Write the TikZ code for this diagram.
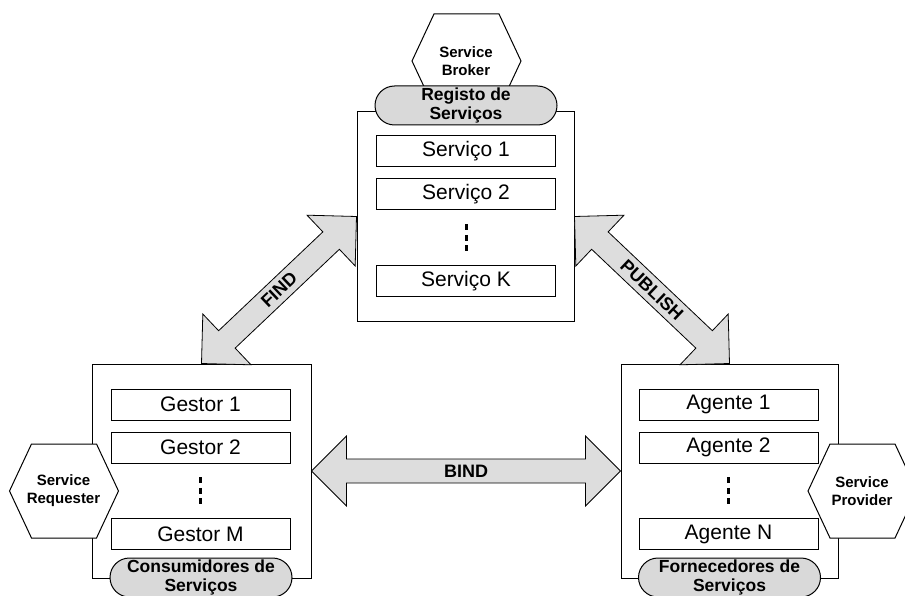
\documentclass[tikz,border=0pt]{standalone}
\usepackage{fontspec}
\setmainfont{Liberation Sans}
\usetikzlibrary{calc,shapes.misc}

\definecolor{arrowgray}{HTML}{DDDDDD}
\definecolor{ovalgray}{HTML}{D9D9D9}

\tikzset{
  rolebox/.style={draw=black, line width=1pt, fill=white, minimum width=218pt, minimum height=214pt, inner sep=0pt},
  itembox/.style={draw=black, line width=1pt, fill=white, minimum width=179pt, minimum height=31pt, inner sep=0pt, font=\fontsize{21}{24}\selectfont},
  registry/.style={rounded rectangle, draw=black, line width=1pt, fill=ovalgray, minimum width=182pt, minimum height=39pt, inner sep=0pt, align=center, font=\bfseries\fontsize{17.5}{19.5}\selectfont},
  rolelabel/.style={align=center, inner sep=0pt, font=\bfseries\fontsize{15}{18}\selectfont},
  hexline/.style={draw=black, line width=1pt, fill=white},
  dotsbox/.style={minimum height=27pt, minimum width=4pt, inner sep=0pt},
  dotsline/.style={line width=3pt, dash pattern=on 6pt off 4.5pt},
  flowarrow/.style={draw=black, line width=0.8pt, fill=arrowgray, line join=miter},
  flowlabel/.style={font=\bfseries\fontsize{18}{20}\selectfont, sloped, inner sep=0pt}
}

% double block arrow between two anchors
\newcommand{\dblarrow}[2]{%
  \draw[flowarrow] (#1)
    -- ($(#1)!35pt!(#2)!35pt!90:(#2)$)
    -- ($(#1)!35pt!(#2)!12pt!90:(#2)$)
    -- ($(#2)!35pt!(#1)!12pt!-90:(#1)$)
    -- ($(#2)!35pt!(#1)!35pt!-90:(#1)$)
    -- (#2)
    -- ($(#2)!35pt!(#1)!35pt!90:(#1)$)
    -- ($(#2)!35pt!(#1)!12pt!90:(#1)$)
    -- ($(#1)!35pt!(#2)!12pt!-90:(#2)$)
    -- ($(#1)!35pt!(#2)!35pt!-90:(#2)$)
    -- cycle;
}

% hexagon with role name
\newcommand{\rolehex}[3]{%
  \draw[hexline] (#1) ++(-54,0) -- ++(22,-47) -- ++(65,0) -- ++(22,47) -- ++(-22,47) -- ++(-65,0) -- cycle;
  \node[rolelabel] (#2) at (#1) {#3};
}

\begin{document}
\begin{tikzpicture}[x=1pt,y=-1pt]
  \useasboundingbox (0,0) rectangle (905,596);
  \clip (0,0) rectangle (905,596);

  \node[rolebox, minimum width=217pt, minimum height=209pt] (reg) at (465.5,216.5) {};
  \node[rolebox, minimum width=219pt] (cons) at (201.5,471) {};
  \node[rolebox, minimum width=217pt] (prov) at (729.5,471) {};

  \dblarrow{cons.north}{reg.west}
  \dblarrow{reg.east}{prov.north}
  \dblarrow{cons.east}{prov.west}
  \path (cons.north) -- (reg.west) node[midway, flowlabel] {FIND};
  \path (reg.east) -- (prov.north) node[midway, flowlabel] {PUBLISH};
  \path (cons.east) -- (prov.west) node[midway, flowlabel] {BIND};

  \node[itembox] (serv1) at (466,151.5) {Serviço 1};
  \node[itembox] (serv2) at (466,194.5) {Serviço 2};
  \node[dotsbox] (servdots) at (466,238) {};
  \node[itembox] (servk) at (466,281) {Serviço K};
  \draw[dotsline] (servdots.north) -- (servdots.south);

  \node[itembox] (gest1) at (200.5,404.5) {Gestor 1};
  \node[itembox] (gest2) at (200.5,447.5) {Gestor 2};
  \node[dotsbox] (gestdots) at (200.5,491) {};
  \node[itembox] (gestm) at (200.5,534) {Gestor M};
  \draw[dotsline] (gestdots.north) -- (gestdots.south);

  \node[itembox] (agen1) at (728.5,404.5) {Agente 1};
  \node[itembox] (agen2) at (728.5,447.5) {Agente 2};
  \node[dotsbox] (agendots) at (728.5,491) {};
  \node[itembox] (agenn) at (728.5,534) {Agente N};
  \draw[dotsline] (agendots.north) -- (agendots.south);

  \rolehex{466,61}{broker}{Service\\Broker}
  \rolehex{63.5,491}{requester}{Service\\Requester}
  \rolehex{862,491}{provider}{Service\\Provider}

  \node[registry] (regoval) at (466,105.5) {Registo de\\Serviços};
  \node[registry] (consoval) at (201,577.5) {Consumidores de\\Serviços};
  \node[registry] (provoval) at (729.5,577.5) {Fornecedores de\\Serviços};
\end{tikzpicture}
\end{document}
